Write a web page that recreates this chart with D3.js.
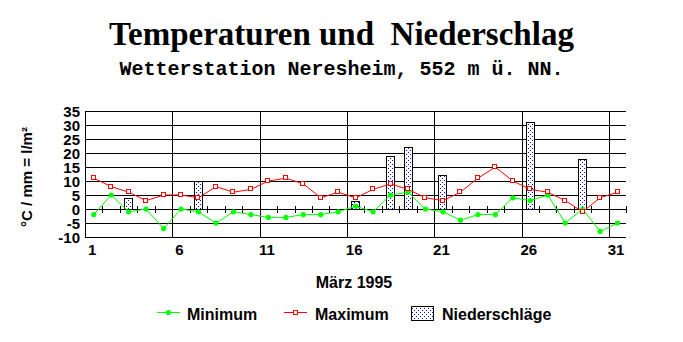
<!DOCTYPE html>
<html><head><meta charset="utf-8">
<script src="https://cdn.jsdelivr.net/npm/d3@7"></script>
<style>body{margin:0;background:#fff}svg{display:block}</style>
</head><body>
<script>
const days = d3.range(1, 32);
const minimum = [-2,5,-1,0,-7,0,-1,-5,-1,-2,-3,-3,-2,-2,-1,1,-1,5,6,0,-1,-4,-2,-2,4,3,5,-5,0,-8,-5];
const maximum = [11,8,6,3,5,5,4,8,6,7,10,11,9,4,6,4,7,9,7,4,3,6,11,15,10,7,6,3,-1,4,6];
const precipDays = [3,7,16,18,19,21,26,29];
const precipValues = [4,10,3,19,22,12,31,18];
const yTicks = [-10,-5,0,5,10,15,20,25,30,35];
const xTickDays = [1,6,11,16,21,26,31];

const W = 683, H = 342;
const svg = d3.select("body").append("svg").attr("width", W).attr("height", H)
  .style("font-family", "Arial, 'Liberation Sans', sans-serif");
svg.append("rect").attr("width", W).attr("height", H).attr("fill", "#fff");

const defs = svg.append("defs");
const pat = defs.append("pattern").attr("id", "dots").attr("patternUnits", "userSpaceOnUse")
  .attr("width", 4).attr("height", 4);
pat.append("rect").attr("width", 4).attr("height", 4).attr("fill", "#fff");
pat.append("rect").attr("x", 0).attr("y", 0).attr("width", 1).attr("height", 1).attr("fill", "#0000ff");
pat.append("rect").attr("x", 2).attr("y", 2).attr("width", 1).attr("height", 1).attr("fill", "#0000ff");

const x = d3.scaleLinear().domain([0, 31]).range([85, 626.3]);
const y = d3.scaleLinear().domain([-10, 35]).range([237, 111]);
const px = d => x(d - 0.5);

// Title
svg.append("text").attr("x", 341.5).attr("y", 45).attr("text-anchor", "middle")
  .style("font-family", "'Liberation Serif', 'Times New Roman', serif").style("font-weight", "bold")
  .style("font-size", "33px").style("white-space", "pre")
  .text("Temperaturen und  Niederschlag");
svg.append("text").attr("x", 341.5).attr("y", 75).attr("text-anchor", "middle")
  .style("font-family", "'Liberation Mono', 'Courier New', monospace").style("font-weight", "bold")
  .style("font-size", "20px")
  .text("Wetterstation Neresheim, 552 m ü. NN.");

// Grid
const g = svg.append("g").attr("shape-rendering", "crispEdges");
g.selectAll("line.h").data(yTicks).join("line")
  .attr("x1", x(0)).attr("x2", x(31)).attr("y1", d => Math.round(y(d)) + 0.5).attr("y2", d => Math.round(y(d)) + 0.5)
  .attr("stroke", "#000");
g.selectAll("line.v").data([0,5,10,15,20,25,30]).join("line")
  .attr("x1", d => Math.round(x(d)) + 0.5).attr("x2", d => Math.round(x(d)) + 0.5)
  .attr("y1", y(35)).attr("y2", y(-10) + 1).attr("stroke", "#000");
// zero-line ticks
g.selectAll("line.t").data(d3.range(1, 32)).join("line")
  .attr("x1", d => Math.round(x(d)) + 0.5).attr("x2", d => Math.round(x(d)) + 0.5)
  .attr("y1", y(0) - 3).attr("y2", y(0) + 4).attr("stroke", "#000");

// Y tick labels
svg.selectAll("text.yt").data(yTicks).join("text")
  .attr("x", 80).attr("y", d => y(d) + 5.5).attr("text-anchor", "end")
  .style("font-weight", "bold").style("font-size", "15px").text(d => d);
// X tick labels
svg.selectAll("text.xt").data(xTickDays).join("text")
  .attr("x", d => px(d) - 1.5).attr("y", 255).attr("text-anchor", "middle")
  .style("font-weight", "bold").style("font-size", "15px").text(d => d);

// Axis title
svg.append("text").attr("transform", "translate(31.5,177) rotate(-90)").attr("text-anchor", "middle")
  .style("font-weight", "bold").style("font-size", "15px").text("°C / mm = l/m²");
svg.append("text").attr("x", 354).attr("y", 288).attr("text-anchor", "middle")
  .style("font-weight", "bold").style("font-size", "16px").text("März 1995");

// Bars
const bars = precipDays.map((d, i) => ({d, v: precipValues[i]}));
svg.append("g").attr("shape-rendering", "crispEdges").selectAll("rect").data(bars).join("rect")
  .attr("x", d => Math.round(px(d.d) - 4.5) + 0.5).attr("width", 8)
  .attr("y", d => Math.round(y(d.v)) + 0.5).attr("height", d => Math.round(y(0)) - Math.round(y(d.v)))
  .attr("fill", "url(#dots)").attr("stroke", "#000");

// Lines
const line = d3.line().x((v, i) => px(days[i])).y(v => y(v));
svg.append("path").datum(minimum).attr("d", line).attr("fill", "none").attr("stroke", "#00ff00").attr("stroke-width", 1);
svg.append("path").datum(maximum).attr("d", line).attr("fill", "none").attr("stroke", "#ff0000").attr("stroke-width", 1);
svg.selectAll("circle.mn").data(minimum).join("circle")
  .attr("cx", (v, i) => px(days[i])).attr("cy", v => y(v)).attr("r", 2.6).attr("fill", "#00ff00");
svg.selectAll("rect.mx").data(maximum).join("rect")
  .attr("x", (v, i) => Math.round(px(days[i])) - 2.5).attr("y", v => Math.round(y(v)) - 2.5)
  .attr("width", 4).attr("height", 4).attr("fill", "#fff").attr("stroke", "#ff0000")
  .attr("shape-rendering", "crispEdges");

// Legend
const lg = svg.append("g");
lg.append("line").attr("x1", 157).attr("x2", 180).attr("y1", 312.5).attr("y2", 312.5).attr("stroke", "#00ff00");
lg.append("circle").attr("cx", 168.5).attr("cy", 312.5).attr("r", 2.6).attr("fill", "#00ff00");
lg.append("text").attr("x", 187).attr("y", 320).style("font-weight", "bold").style("font-size", "16px").text("Minimum");
lg.append("line").attr("x1", 284).attr("x2", 307).attr("y1", 312.5).attr("y2", 312.5).attr("stroke", "#ff0000");
lg.append("rect").attr("x", 293.5).attr("y", 310.5).attr("width", 4).attr("height", 4).attr("fill", "#fff").attr("stroke", "#ff0000").attr("shape-rendering", "crispEdges");
lg.append("text").attr("x", 315).attr("y", 320).style("font-weight", "bold").style("font-size", "16px").text("Maximum");
lg.append("rect").attr("x", 411.5).attr("y", 306.5).attr("width", 22).attr("height", 14).attr("fill", "url(#dots)").attr("stroke", "#000").attr("shape-rendering", "crispEdges");
lg.append("text").attr("x", 442).attr("y", 320).style("font-weight", "bold").style("font-size", "16px").text("Niederschläge");
</script>
</body></html>
